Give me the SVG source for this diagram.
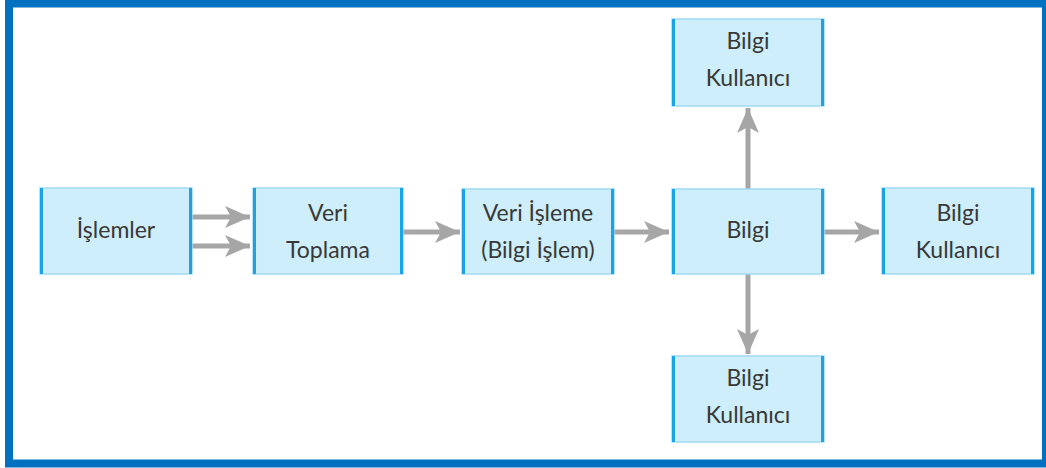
<svg xmlns="http://www.w3.org/2000/svg" width="1046" height="468" viewBox="0 0 1046 468">
<style>
.box{fill:#cdeefa;stroke:#9fdaf2;stroke-width:1.5}
.side{stroke:#1aa3e8;stroke-width:3}
.t{font-family:Lato,"Open Sans",sans-serif;font-size:23px;fill:#383838;text-anchor:middle}
.c{stroke:#a6a6a6;stroke-width:5;fill:none;marker-end:url(#ah)}
</style>
<defs>
<marker id="ah" markerUnits="userSpaceOnUse" markerWidth="26" markerHeight="22" refX="25" refY="11" orient="auto" viewBox="0 0 26 22">
<path d="M0,0 L25,11 L0,22 L6,11 z" fill="#a6a6a6"/>
</marker>
</defs>
<rect x="0" y="0" width="1046" height="468" fill="#fff"/>
<rect x="9" y="3.5" width="1037" height="460" fill="none" stroke="#0070c0" stroke-width="8"/>
<g id="connectors">
<line class="c" x1="192" y1="217" x2="250" y2="217"/>
<line class="c" x1="192" y1="246" x2="250" y2="246"/>
<line class="c" x1="403" y1="232" x2="460" y2="232"/>
<line class="c" x1="614" y1="232" x2="669" y2="232"/>
<line class="c" x1="824" y1="232" x2="879" y2="232"/>
<line class="c" x1="748" y1="189" x2="748" y2="108"/>
<line class="c" x1="748" y1="274" x2="748" y2="354"/>
</g>
<g id="islemler">
<rect class="box" x="40" y="188" width="152" height="86"/>
<line class="side" x1="41.5" y1="188" x2="41.5" y2="274"/><line class="side" x1="190.5" y1="188" x2="190.5" y2="274"/>
<text class="t" x="116" y="238">İşlemler</text>
</g>
<g id="veri-toplama">
<rect class="box" x="253" y="188" width="150" height="86"/>
<line class="side" x1="254.5" y1="188" x2="254.5" y2="274"/><line class="side" x1="401.5" y1="188" x2="401.5" y2="274"/>
<text class="t" x="328" y="221">Veri</text>
<text class="t" x="328" y="258">Toplama</text>
</g>
<g id="veri-isleme">
<rect class="box" x="462" y="189" width="152" height="85"/>
<line class="side" x1="463.5" y1="189" x2="463.5" y2="274"/><line class="side" x1="612.5" y1="189" x2="612.5" y2="274"/>
<text class="t" x="538" y="221">Veri İşleme</text>
<text class="t" x="538" y="258">(Bilgi İşlem)</text>
</g>
<g id="bilgi">
<rect class="box" x="672" y="189" width="152" height="85"/>
<line class="side" x1="673.5" y1="189" x2="673.5" y2="274"/><line class="side" x1="822.5" y1="189" x2="822.5" y2="274"/>
<text class="t" x="748" y="238">Bilgi</text>
</g>
<g id="kullanici-top">
<rect class="box" x="672" y="19" width="152" height="87"/>
<line class="side" x1="673.5" y1="19" x2="673.5" y2="106"/><line class="side" x1="822.5" y1="19" x2="822.5" y2="106"/>
<text class="t" x="748" y="49">Bilgi</text>
<text class="t" x="748" y="86">Kullanıcı</text>
</g>
<g id="kullanici-right">
<rect class="box" x="882" y="188" width="152" height="86"/>
<line class="side" x1="883.5" y1="188" x2="883.5" y2="274"/><line class="side" x1="1032.5" y1="188" x2="1032.5" y2="274"/>
<text class="t" x="958" y="221">Bilgi</text>
<text class="t" x="958" y="258">Kullanıcı</text>
</g>
<g id="kullanici-bottom">
<rect class="box" x="672" y="356" width="152" height="86"/>
<line class="side" x1="673.5" y1="356" x2="673.5" y2="442"/><line class="side" x1="822.5" y1="356" x2="822.5" y2="442"/>
<text class="t" x="748" y="386">Bilgi</text>
<text class="t" x="748" y="423">Kullanıcı</text>
</g>
</svg>
